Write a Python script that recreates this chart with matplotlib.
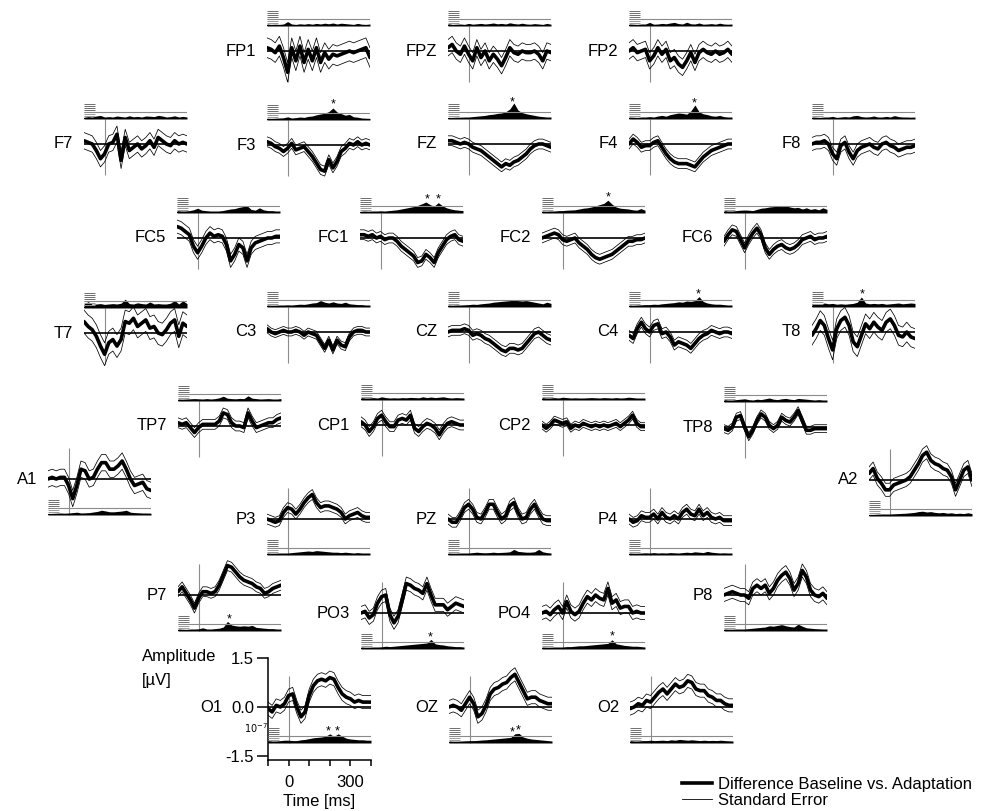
import numpy as np
import matplotlib.pyplot as plt
from matplotlib.lines import Line2D

plt.rcParams["font.family"] = ["Liberation Sans", "DejaVu Sans"]

# time axis shared by all channels (ms)
times = np.arange(-100, 401, 20)

# mean difference wave per channel (µV)
fp1_wave = [0.1, 0.05, -0.05, 0.15, -0.2, -0.65, 0.1, -0.3, 0.15, -0.35, 0.05, -0.3, 0.1, -0.35, -0.05, -0.25, -0.1, -0.15, -0.1, -0.05, 0.0, -0.05, 0.0, 0.05, 0.1, -0.2]
fpz_wave = [0.1, 0.2, 0.0, -0.1, 0.15, -0.1, -0.3, 0.1, -0.2, 0.0, -0.3, -0.1, -0.25, -0.45, -0.2, 0.1, -0.05, -0.1, 0.0, -0.05, -0.05, 0.0, -0.1, -0.3, 0.0, -0.05]
fp2_wave = [0.0, 0.1, -0.05, 0.0, 0.05, -0.3, -0.15, 0.1, -0.1, 0.05, -0.3, -0.2, -0.4, -0.5, -0.3, -0.05, -0.35, -0.05, 0.05, -0.05, -0.1, 0.0, -0.1, -0.05, 0.05, -0.1]
f7_wave = [0.1, 0.05, 0.0, -0.2, -0.45, -0.3, 0.0, 0.05, 0.3, -0.5, 0.2, -0.2, -0.1, 0.0, -0.15, -0.05, 0.1, -0.1, 0.2, 0.1, 0.0, -0.05, 0.1, 0.0, 0.05, 0.0]
f3_wave = [0.1, 0.05, -0.05, -0.1, -0.2, -0.1, 0.05, -0.15, -0.1, -0.05, -0.2, -0.35, -0.55, -0.75, -0.8, -0.45, -0.7, -0.5, -0.2, -0.1, 0.05, 0.0, 0.1, 0.0, 0.05, 0.0]
fz_wave = [0.1, 0.1, 0.05, 0.0, 0.05, 0.0, -0.1, -0.15, -0.2, -0.3, -0.4, -0.5, -0.6, -0.7, -0.6, -0.65, -0.55, -0.5, -0.4, -0.3, -0.15, -0.05, 0.0, 0.0, -0.05, -0.1]
f4_wave = [0.0, 0.15, 0.05, -0.1, -0.05, -0.05, 0.05, 0.1, -0.1, -0.3, -0.45, -0.55, -0.6, -0.6, -0.6, -0.65, -0.7, -0.55, -0.4, -0.3, -0.2, -0.15, -0.1, -0.05, 0.0, 0.0]
f8_wave = [0.0, 0.05, 0.05, 0.1, 0.0, -0.3, -0.45, -0.05, 0.05, -0.25, -0.45, -0.2, -0.1, -0.05, 0.0, -0.1, -0.15, 0.0, 0.05, -0.05, -0.1, -0.2, -0.15, -0.1, -0.1, -0.05]
fc5_wave = [0.35, 0.3, 0.2, 0.1, -0.25, -0.45, -0.25, 0.0, 0.15, 0.05, 0.1, 0.05, -0.2, -0.7, -0.5, -0.2, -0.3, -0.7, -0.3, -0.15, -0.1, -0.05, 0.0, 0.0, 0.05, 0.05]
fc1_wave = [0.1, 0.1, 0.05, 0.1, 0.0, 0.05, -0.05, 0.0, 0.0, -0.1, -0.25, -0.35, -0.45, -0.55, -0.75, -0.7, -0.5, -0.6, -0.75, -0.45, -0.25, -0.05, 0.05, 0.1, -0.05, -0.1]
fc2_wave = [0.0, 0.05, 0.1, 0.15, 0.1, -0.05, -0.1, -0.05, 0.0, -0.15, -0.25, -0.35, -0.5, -0.6, -0.65, -0.6, -0.55, -0.5, -0.4, -0.3, -0.2, -0.1, -0.1, -0.05, -0.05, 0.0]
fc6_wave = [-0.1, 0.1, 0.25, 0.2, -0.05, -0.3, -0.05, 0.15, 0.3, 0.1, -0.3, -0.5, -0.35, -0.25, -0.2, -0.3, -0.35, -0.3, -0.2, -0.05, 0.0, 0.05, -0.05, 0.0, 0.0, 0.05]
t7_wave = [0.35, 0.2, 0.1, -0.1, -0.4, -0.65, -0.3, -0.2, -0.4, -0.2, 0.35, 0.3, 0.45, 0.2, 0.3, 0.4, 0.15, 0.2, 0.0, -0.05, 0.1, 0.3, 0.4, -0.1, 0.3, 0.2]
c3_wave = [0.1, 0.0, -0.05, 0.0, 0.05, 0.0, 0.0, 0.05, 0.0, -0.1, 0.0, -0.05, -0.1, -0.3, -0.5, -0.25, -0.55, -0.25, -0.4, -0.45, -0.15, 0.0, 0.05, 0.05, 0.0, 0.0]
cz_wave = [0.0, 0.05, 0.05, 0.05, 0.1, 0.05, -0.1, -0.05, -0.1, -0.2, -0.25, -0.35, -0.45, -0.55, -0.6, -0.5, -0.5, -0.55, -0.5, -0.35, -0.2, -0.05, 0.0, -0.1, -0.2, -0.25]
c4_wave = [-0.1, -0.2, 0.1, 0.3, 0.1, 0.0, 0.2, 0.25, -0.05, 0.0, -0.15, -0.4, -0.3, -0.35, -0.4, -0.5, -0.35, -0.2, -0.1, -0.05, 0.05, 0.0, -0.05, 0.0, 0.0, -0.05]
t8_wave = [-0.1, 0.1, 0.35, 0.2, -0.2, -0.55, 0.1, 0.35, 0.45, 0.2, -0.3, -0.45, -0.1, 0.25, 0.1, 0.3, 0.15, 0.05, 0.3, 0.4, 0.2, -0.1, -0.15, 0.0, -0.15, -0.2]
tp7_wave = [0.1, 0.05, 0.1, -0.05, -0.2, -0.05, 0.05, 0.05, 0.05, 0.05, 0.15, 0.4, 0.35, 0.1, 0.0, 0.0, -0.05, 0.4, 0.15, -0.05, 0.0, 0.05, 0.1, 0.1, 0.2, 0.25]
cp1_wave = [0.1, 0.0, -0.2, -0.05, 0.2, 0.3, 0.1, -0.05, -0.05, 0.15, 0.2, 0.15, 0.3, -0.1, -0.2, -0.05, 0.05, 0.0, -0.1, -0.3, -0.1, 0.05, 0.1, 0.05, 0.0, 0.0]
cp2_wave = [0.0, -0.1, 0.0, 0.15, 0.1, 0.05, 0.1, -0.1, 0.0, -0.05, 0.05, 0.0, -0.05, 0.0, -0.05, 0.0, -0.05, 0.0, 0.05, -0.05, 0.05, 0.15, 0.3, 0.05, -0.05, -0.05]
tp8_wave = [-0.05, -0.1, 0.0, 0.3, 0.35, 0.0, -0.3, -0.1, 0.2, 0.4, 0.3, 0.05, -0.05, 0.05, 0.3, 0.2, 0.15, 0.3, 0.5, 0.2, -0.1, -0.1, -0.05, -0.05, -0.05, -0.05]
a1_wave = [0.0, 0.05, 0.0, 0.05, 0.05, -0.2, -0.6, -0.2, 0.3, 0.25, 0.0, 0.05, 0.3, 0.5, 0.5, 0.3, 0.3, 0.4, 0.55, 0.3, 0.0, -0.2, -0.15, -0.1, -0.3, -0.35]
a2_wave = [0.2, 0.35, 0.05, -0.1, -0.3, -0.3, -0.15, -0.1, -0.05, 0.0, 0.1, 0.3, 0.5, 0.75, 0.85, 0.6, 0.5, 0.45, 0.35, 0.3, 0.1, -0.3, 0.0, 0.3, 0.4, 0.0]
p3_wave = [0.0, -0.05, -0.1, -0.05, 0.2, 0.35, 0.3, 0.15, 0.3, 0.5, 0.65, 0.75, 0.5, 0.35, 0.4, 0.4, 0.35, 0.3, 0.2, 0.0, 0.1, 0.15, 0.2, 0.1, 0.05, 0.05]
pz_wave = [0.0, -0.1, -0.1, 0.1, 0.35, 0.45, 0.3, 0.05, 0.0, 0.2, 0.45, 0.45, 0.2, 0.0, 0.1, 0.4, 0.5, 0.2, 0.0, 0.05, 0.3, 0.45, 0.2, 0.0, -0.05, -0.05]
p4_wave = [0.0, -0.1, -0.05, 0.1, 0.05, 0.05, 0.15, 0.0, 0.2, 0.05, 0.0, 0.1, 0.0, 0.2, 0.3, 0.15, 0.1, 0.3, 0.1, 0.2, 0.05, 0.0, 0.05, -0.05, -0.05, -0.05]
p7_wave = [0.1, 0.25, 0.05, -0.15, -0.4, -0.1, 0.1, 0.1, 0.05, 0.1, 0.3, 0.6, 0.9, 0.85, 0.7, 0.55, 0.45, 0.4, 0.35, 0.25, 0.2, 0.05, 0.1, 0.2, 0.25, 0.3]
po3_wave = [0.0, 0.05, -0.15, -0.05, 0.3, 0.5, 0.55, -0.05, -0.3, -0.1, 0.4, 0.9, 0.85, 0.75, 0.7, 0.6, 0.9, 0.55, 0.25, 0.25, 0.25, 0.1, 0.2, 0.3, 0.25, 0.2]
po4_wave = [0.0, 0.05, -0.05, 0.1, 0.2, 0.0, 0.35, 0.05, -0.05, 0.05, 0.3, 0.5, 0.4, 0.55, 0.45, 0.4, 0.75, 0.3, 0.4, 0.15, 0.2, 0.2, 0.0, 0.05, 0.0, 0.0]
p8_wave = [0.0, 0.05, 0.1, 0.05, 0.0, 0.0, -0.1, 0.2, 0.3, 0.2, 0.3, 0.05, 0.2, 0.45, 0.6, 0.7, 0.5, 0.15, 0.35, 0.75, 0.55, 0.15, 0.0, -0.05, 0.05, -0.1]
o1_wave = [-0.05, -0.15, 0.05, 0.0, 0.1, 0.35, 0.4, 0.0, -0.3, -0.15, 0.35, 0.65, 0.8, 0.85, 0.8, 0.9, 0.85, 0.6, 0.4, 0.3, 0.25, 0.15, 0.2, 0.15, 0.15, 0.15]
oz_wave = [0.0, 0.05, 0.0, -0.1, 0.1, 0.3, 0.1, -0.3, -0.2, 0.05, 0.4, 0.55, 0.6, 0.7, 0.75, 0.9, 1.0, 0.75, 0.5, 0.25, 0.3, 0.3, 0.2, 0.15, 0.1, 0.1]
o2_wave = [-0.05, 0.0, 0.1, 0.05, 0.2, 0.15, 0.3, 0.45, 0.55, 0.4, 0.55, 0.7, 0.6, 0.65, 0.8, 0.75, 0.55, 0.5, 0.5, 0.35, 0.3, 0.2, 0.2, 0.1, 0.05, 0.05]

# -log10(p) of the baseline vs. adaptation test per channel
fp1_p = [1.0, 0.8, 0.9, 0.8, 1.0, 2.2, 1.0, 0.8, 1.1, 0.9, 1.2, 0.9, 1.3, 1.0, 1.4, 1.1, 1.5, 1.0, 1.4, 1.2, 1.0, 0.8, 1.3, 0.9, 0.8, 1.0]
fpz_p = [1.2, 0.8, 0.9, 1.0, 0.8, 1.3, 0.9, 1.1, 1.3, 1.0, 1.2, 1.5, 1.1, 1.3, 1.0, 1.6, 1.2, 1.0, 1.4, 1.0, 0.9, 1.2, 1.0, 0.8, 1.3, 0.9]
fp2_p = [1.0, 0.9, 0.8, 1.0, 1.0, 1.8, 0.9, 1.0, 1.3, 1.1, 1.5, 1.8, 1.2, 1.0, 1.9, 1.1, 1.0, 1.5, 0.9, 1.0, 1.2, 0.9, 1.4, 1.0, 0.9, 1.0]
f7_p = [0.9, 1.2, 1.0, 1.5, 1.8, 1.0, 1.2, 1.0, 1.5, 1.2, 1.0, 1.6, 1.1, 1.3, 1.0, 1.5, 1.4, 1.2, 1.8, 1.5, 1.0, 1.2, 1.6, 1.0, 1.3, 1.0]
f3_p = [0.9, 0.8, 0.9, 1.0, 1.1, 1.6, 1.0, 1.2, 1.5, 1.3, 1.8, 2.0, 2.6, 3.0, 3.4, 4.2, 6.0, 4.0, 3.2, 2.4, 2.8, 1.6, 1.4, 1.0, 0.9, 0.8]
fz_p = [0.8, 0.8, 0.9, 0.9, 1.0, 1.0, 1.2, 1.4, 1.6, 1.8, 2.2, 2.4, 2.8, 3.0, 3.6, 5.0, 8.0, 4.4, 3.2, 2.6, 2.2, 1.8, 1.4, 1.2, 1.0, 1.0]
f4_p = [1.0, 0.9, 0.8, 1.0, 1.0, 1.2, 1.0, 1.5, 1.8, 1.4, 2.2, 2.6, 3.0, 2.8, 2.4, 4.0, 7.0, 3.6, 2.6, 2.2, 1.6, 1.4, 1.8, 1.2, 1.0, 1.0]
f8_p = [1.0, 0.9, 0.8, 1.0, 1.0, 1.3, 0.8, 1.0, 1.2, 1.0, 1.6, 1.8, 1.2, 1.0, 1.1, 1.5, 1.0, 1.0, 1.3, 1.0, 1.7, 1.2, 1.0, 1.0, 0.9, 1.0]
fc5_p = [1.2, 1.0, 1.0, 1.2, 1.6, 2.4, 1.4, 1.2, 1.0, 1.0, 1.0, 1.2, 1.6, 2.0, 2.2, 2.8, 3.2, 3.6, 1.8, 1.4, 2.6, 1.6, 1.2, 1.2, 1.0, 1.0]
fc1_p = [0.8, 1.0, 0.9, 1.0, 1.0, 1.1, 1.0, 1.2, 1.4, 1.6, 2.0, 2.4, 2.8, 3.2, 3.8, 4.6, 5.5, 4.2, 3.4, 5.2, 3.6, 2.6, 2.0, 1.6, 1.4, 1.2]
fc2_p = [1.0, 0.9, 1.0, 1.0, 1.2, 1.2, 1.4, 1.5, 1.6, 2.0, 2.4, 2.6, 3.0, 3.6, 4.2, 4.8, 6.4, 4.4, 3.0, 2.4, 2.2, 2.0, 1.6, 1.4, 2.2, 1.4]
fc6_p = [1.2, 1.0, 1.0, 1.2, 1.4, 1.5, 1.4, 1.2, 1.8, 2.4, 2.6, 3.0, 3.2, 3.4, 3.2, 3.6, 3.0, 2.6, 2.8, 2.0, 2.6, 1.8, 2.2, 1.6, 2.6, 1.8]
t7_p = [2.0, 3.2, 1.8, 2.0, 2.2, 1.8, 2.0, 2.2, 2.0, 2.4, 4.4, 2.2, 2.0, 2.6, 2.2, 2.0, 3.0, 2.0, 2.2, 2.0, 2.0, 2.4, 3.8, 2.0, 3.6, 2.2]
c3_p = [1.0, 0.9, 0.9, 1.0, 1.0, 1.1, 1.0, 1.2, 1.4, 1.3, 1.6, 2.0, 2.2, 3.2, 2.4, 2.0, 2.6, 2.0, 1.8, 2.4, 1.6, 1.4, 1.2, 1.2, 1.0, 1.0]
cz_p = [1.0, 0.9, 1.0, 1.0, 1.1, 1.2, 1.4, 1.3, 1.6, 1.8, 2.0, 2.4, 2.6, 2.8, 3.0, 3.2, 3.4, 3.2, 3.0, 3.2, 2.8, 2.4, 2.0, 1.6, 2.4, 1.8]
c4_p = [1.0, 0.9, 1.0, 1.1, 1.2, 1.2, 1.4, 1.3, 1.6, 1.8, 2.0, 2.2, 2.6, 2.4, 3.0, 2.8, 3.2, 5.2, 2.8, 2.0, 1.6, 1.4, 1.4, 1.2, 1.0, 1.0]
t8_p = [1.8, 1.6, 1.4, 2.0, 1.6, 1.8, 1.4, 1.6, 1.4, 1.6, 1.8, 2.4, 5.0, 2.0, 1.6, 1.8, 1.6, 1.8, 1.4, 1.6, 1.8, 2.0, 1.6, 1.8, 2.0, 1.8]
tp7_p = [1.0, 0.9, 1.0, 1.1, 1.2, 1.1, 1.0, 1.2, 1.0, 1.2, 1.6, 2.4, 1.4, 1.2, 1.1, 1.3, 1.2, 2.6, 1.4, 1.2, 1.0, 1.1, 1.2, 1.0, 1.0, 1.2]
cp1_p = [1.2, 1.0, 1.0, 1.2, 1.0, 1.6, 1.2, 1.0, 1.1, 1.0, 1.2, 1.1, 1.3, 1.2, 1.1, 1.6, 1.2, 1.5, 1.2, 1.4, 1.6, 1.2, 1.0, 1.2, 1.1, 1.0]
cp2_p = [1.2, 1.0, 1.0, 1.2, 1.0, 1.4, 1.2, 1.0, 1.1, 1.0, 1.0, 1.1, 1.2, 1.1, 1.0, 1.2, 1.1, 1.0, 1.2, 1.0, 1.1, 1.4, 1.2, 1.0, 1.0, 1.0]
tp8_p = [1.2, 1.0, 1.0, 1.2, 1.4, 1.6, 1.2, 1.0, 1.4, 1.2, 1.6, 2.0, 1.4, 1.2, 1.6, 1.8, 1.4, 1.2, 1.8, 1.6, 1.4, 1.2, 1.0, 1.2, 1.0, 1.0]
a1_p = [0.8, 0.8, 0.9, 1.0, 0.9, 1.0, 1.2, 1.4, 1.0, 1.1, 1.2, 1.5, 1.8, 2.4, 2.0, 1.6, 1.6, 1.8, 2.0, 2.4, 1.4, 1.2, 1.1, 1.0, 1.0, 0.9]
a2_p = [0.8, 0.8, 0.9, 1.0, 1.0, 1.0, 1.1, 1.2, 1.3, 1.4, 1.6, 1.8, 2.2, 2.4, 2.0, 2.2, 1.8, 1.6, 1.8, 1.4, 1.6, 1.2, 1.4, 1.2, 1.6, 1.2]
p3_p = [1.0, 0.9, 0.9, 1.0, 1.0, 1.0, 1.2, 1.4, 1.6, 1.8, 2.0, 1.8, 2.2, 2.0, 1.8, 1.6, 1.4, 1.4, 1.2, 1.4, 1.2, 1.0, 1.2, 1.0, 1.0, 1.0]
pz_p = [1.0, 0.9, 0.9, 1.0, 1.0, 1.0, 1.2, 1.4, 1.2, 1.1, 1.2, 1.4, 1.2, 1.3, 1.4, 1.6, 2.8, 1.8, 1.6, 1.4, 1.4, 1.6, 2.8, 1.6, 1.2, 1.0]
p4_p = [1.0, 0.9, 0.9, 1.0, 1.1, 1.0, 1.2, 1.0, 1.1, 1.0, 1.2, 1.1, 1.0, 1.2, 1.4, 1.2, 1.6, 1.4, 1.2, 1.8, 1.4, 1.2, 1.0, 1.1, 1.0, 1.0]
p7_p = [1.0, 0.9, 0.8, 1.0, 1.0, 1.1, 1.6, 1.0, 1.0, 1.2, 1.4, 2.0, 4.8, 3.0, 2.6, 2.4, 2.6, 2.4, 2.8, 1.8, 1.6, 1.4, 1.2, 1.2, 1.0, 1.0]
po3_p = [1.0, 0.9, 0.9, 1.0, 1.0, 1.1, 1.4, 1.2, 1.4, 1.6, 1.8, 2.0, 2.2, 2.4, 2.6, 2.8, 3.0, 4.8, 2.6, 2.2, 2.0, 1.6, 1.4, 1.2, 1.2, 1.0]
po4_p = [1.0, 0.9, 0.9, 1.0, 1.0, 1.0, 1.2, 1.2, 1.4, 1.6, 1.6, 1.8, 2.0, 2.2, 2.4, 2.6, 2.8, 4.6, 2.6, 2.2, 1.8, 1.6, 1.4, 1.4, 1.2, 1.0]
p8_p = [1.0, 0.9, 0.9, 1.0, 1.0, 1.0, 1.2, 1.4, 1.6, 1.8, 2.0, 2.6, 2.4, 2.8, 3.2, 2.6, 2.2, 2.0, 3.4, 2.4, 1.6, 1.4, 1.2, 1.1, 1.0, 1.0]
o1_p = [1.2, 1.0, 1.0, 1.2, 1.4, 1.4, 1.2, 1.2, 1.6, 1.8, 2.2, 2.6, 2.8, 3.0, 3.4, 4.6, 3.2, 4.6, 3.4, 2.4, 2.0, 1.8, 1.6, 1.6, 1.4, 1.4]
oz_p = [1.0, 0.9, 0.9, 1.0, 1.1, 1.2, 1.2, 1.3, 1.5, 1.6, 1.8, 2.0, 2.2, 2.4, 2.6, 2.8, 4.6, 4.8, 3.0, 2.4, 2.0, 1.8, 1.6, 1.4, 1.2, 1.0]
o2_p = [1.2, 1.0, 1.0, 1.2, 1.2, 1.4, 1.2, 1.3, 1.4, 1.2, 1.6, 1.4, 1.8, 1.6, 1.4, 1.6, 1.4, 1.2, 1.4, 1.2, 1.3, 1.2, 1.4, 1.2, 1.1, 1.0]

channels = ["FP1", "FPZ", "FP2", "F7", "F3", "FZ", "F4", "F8",
            "FC5", "FC1", "FC2", "FC6", "T7", "C3", "CZ", "C4", "T8",
            "TP7", "CP1", "CP2", "TP8", "A1", "A2", "P3", "PZ", "P4",
            "P7", "PO3", "PO4", "P8", "O1", "OZ", "O2"]
waves = [fp1_wave, fpz_wave, fp2_wave, f7_wave, f3_wave, fz_wave, f4_wave, f8_wave,
         fc5_wave, fc1_wave, fc2_wave, fc6_wave, t7_wave, c3_wave, cz_wave, c4_wave, t8_wave,
         tp7_wave, cp1_wave, cp2_wave, tp8_wave, a1_wave, a2_wave, p3_wave, pz_wave, p4_wave,
         p7_wave, po3_wave, po4_wave, p8_wave, o1_wave, oz_wave, o2_wave]
pvals = [fp1_p, fpz_p, fp2_p, f7_p, f3_p, fz_p, f4_p, f8_p,
         fc5_p, fc1_p, fc2_p, fc6_p, t7_p, c3_p, cz_p, c4_p, t8_p,
         tp7_p, cp1_p, cp2_p, tp8_p, a1_p, a2_p, p3_p, pz_p, p4_p,
         p7_p, po3_p, po4_p, p8_p, o1_p, oz_p, o2_p]
# standard error of the difference wave (µV)
std_err = [0.3, 0.25, 0.25, 0.25, 0.15, 0.15, 0.15, 0.2,
           0.2, 0.15, 0.15, 0.15, 0.35, 0.12, 0.15, 0.15, 0.3,
           0.15, 0.15, 0.12, 0.12, 0.25, 0.2, 0.15, 0.15, 0.15,
           0.15, 0.2, 0.2, 0.2, 0.2, 0.2, 0.2]
# latencies (ms) marked significant
sig_times = {"F3": [220], "FZ": [210], "F4": [215], "FC1": [225, 278],
             "FC2": [220], "C4": [235], "T8": [143], "P7": [148],
             "PO3": [235], "PO4": [240], "O1": [191, 234], "OZ": [206, 235]}

# panel layout in pixels: left edge, zero line y, side of the p-value strip
FIG_W, FIG_H = 986, 811
PANEL_POS = {
    "FP1": (267, 51, "top"), "FPZ": (448, 51, "top"), "FP2": (629, 51, "top"),
    "F7": (84, 144, "top"), "F3": (267, 145, "top"), "FZ": (448, 144, "top"),
    "F4": (629, 144, "top"), "F8": (812, 144, "top"),
    "FC5": (177, 238, "top"), "FC1": (360, 238, "top"), "FC2": (542, 238, "top"),
    "FC6": (724, 238, "top"),
    "T7": (84, 333, "top"), "C3": (267, 332, "top"), "CZ": (448, 332, "top"),
    "C4": (629, 332, "top"), "T8": (812, 332, "top"),
    "TP7": (178, 426, "top"), "CP1": (361, 425, "top"), "CP2": (542, 425, "top"),
    "TP8": (724, 427, "top"),
    "A1": (48, 479, "bottom"), "A2": (869, 480, "bottom"),
    "P3": (267, 519, "bottom"), "PZ": (448, 519, "bottom"), "P4": (629, 519, "bottom"),
    "P7": (178, 595, "bottom"), "PO3": (361, 613, "bottom"), "PO4": (542, 613, "bottom"),
    "P8": (724, 595, "bottom"),
    "O1": (268, 707, "bottom"), "OZ": (449, 707, "bottom"), "O2": (630, 707, "bottom"),
}
PX_PER_UV = 32.7
PANEL_W = 103
WAVE_LIM = 2.0
STRIP_H = 16       # strip axis 0..8 -> 2 px per unit
THRESH = 3.5
LABEL_SIZE = 12


def fig_rect(x, y_top, w, h):
    return [x / FIG_W, 1 - (y_top + h) / FIG_H, w / FIG_W, h / FIG_H]


fig = plt.figure(figsize=(FIG_W / 100, FIG_H / 100), dpi=100)

for name, wave, plog, se in zip(channels, waves, pvals, std_err):
    x0, zy, side = PANEL_POS[name]
    wave = np.array(wave)
    h = 2 * WAVE_LIM * PX_PER_UV
    ax = fig.add_axes(fig_rect(x0, zy - h / 2, PANEL_W, h))
    ax.set_xlim(-100, 400)
    ax.set_ylim(-WAVE_LIM, WAVE_LIM)
    ax.patch.set_visible(False)

    if side == "top":
        base = zy - 25
        v_top, v_bot = zy - 25, zy + 31
    else:
        base = zy + 36
        v_top, v_bot = zy - 31, zy + 36

    # stimulus onset
    ax.vlines(0, (zy - v_bot) / PX_PER_UV, (zy - v_top) / PX_PER_UV,
              color="#8c8c8c", lw=0.8, zorder=1)
    ax.plot(times, wave + se, color="black", lw=0.55, zorder=2)
    ax.plot(times, wave - se, color="black", lw=0.55, zorder=2)
    ax.hlines(0, -100, 400, color="black", lw=1.2, zorder=2)
    ax.plot(times, wave, color="black", lw=2.6, zorder=3,
            solid_joinstyle="round", solid_capstyle="round")

    # p-value strip
    sax = fig.add_axes(fig_rect(x0, base - STRIP_H, PANEL_W, STRIP_H))
    sax.set_xlim(-100, 400)
    sax.set_ylim(0, 8)
    sax.axis("off")
    for k, lev in enumerate(np.arange(1.5, 8, 1.0)):
        sax.hlines(lev, -100, -45, color="#9a9a9a" if k < 2 else "#6e6e6e", lw=0.7)
    sax.hlines(THRESH, -100, 400, color="#8a8a8a", lw=0.8)
    sax.fill_between(times, 0, plog, color="black", lw=0, clip_on=False)
    sax.hlines(0, -100, 400, color="black", lw=1.4)
    for t in sig_times.get(name, []):
        peak = np.interp(t, times, plog)
        sax.text(t, max(peak, THRESH) + 1.6, "*", ha="center", va="center",
                 fontsize=9, clip_on=False)

    if name == "O1":
        sax.text(-100, 7.3, r"$10^{-7}$", ha="right", va="center", fontsize=7)
        for s in ["top", "right"]:
            ax.spines[s].set_visible(False)
        ax.spines["left"].set_bounds(-1.62, 1.5)
        ax.spines["bottom"].set_position(("data", -1.62))
        ax.spines["left"].set_linewidth(1.1)
        ax.spines["bottom"].set_linewidth(1.1)
        ax.set_yticks([-1.5, 0.0, 1.5], ["-1.5", "0.0", "1.5"])
        ax.set_xticks([-100, 0, 100, 200, 300, 400], ["", "0", "", "", "300", ""])
        ax.tick_params(axis="y", direction="out", length=8, width=1.1, pad=2,
                       labelsize=LABEL_SIZE)
        ax.tick_params(axis="x", direction="out", length=4, width=1.1, pad=7,
                       labelsize=LABEL_SIZE)
        ax.set_xlabel("Time [ms]", fontsize=LABEL_SIZE, labelpad=3)
        label_off = -46
    else:
        ax.axis("off")
        label_off = -11
    ax.annotate(name, xy=(-100, 0), xytext=(label_off, 0), textcoords="offset pixels",
                ha="right", va="center", fontsize=LABEL_SIZE, xycoords="data")

fig.text(142 / FIG_W, 1 - 657 / FIG_H, "Amplitude", ha="left", va="center",
         fontsize=LABEL_SIZE)
fig.text(142 / FIG_W, 1 - 681 / FIG_H, "[µV]", ha="left", va="center",
         fontsize=LABEL_SIZE)

handles = [Line2D([], [], color="black", lw=2.6), Line2D([], [], color="black", lw=0.6)]
fig.legend(handles, ["Difference Baseline vs. Adaptation", "Standard Error"],
           loc="upper left", bbox_to_anchor=(682 / FIG_W, 1 - 777 / FIG_H),
           frameon=False, fontsize=LABEL_SIZE, handlelength=1.8, handletextpad=0.35,
           labelspacing=0.05, borderpad=0, borderaxespad=0)

fig.savefig("out.png", dpi=100)
